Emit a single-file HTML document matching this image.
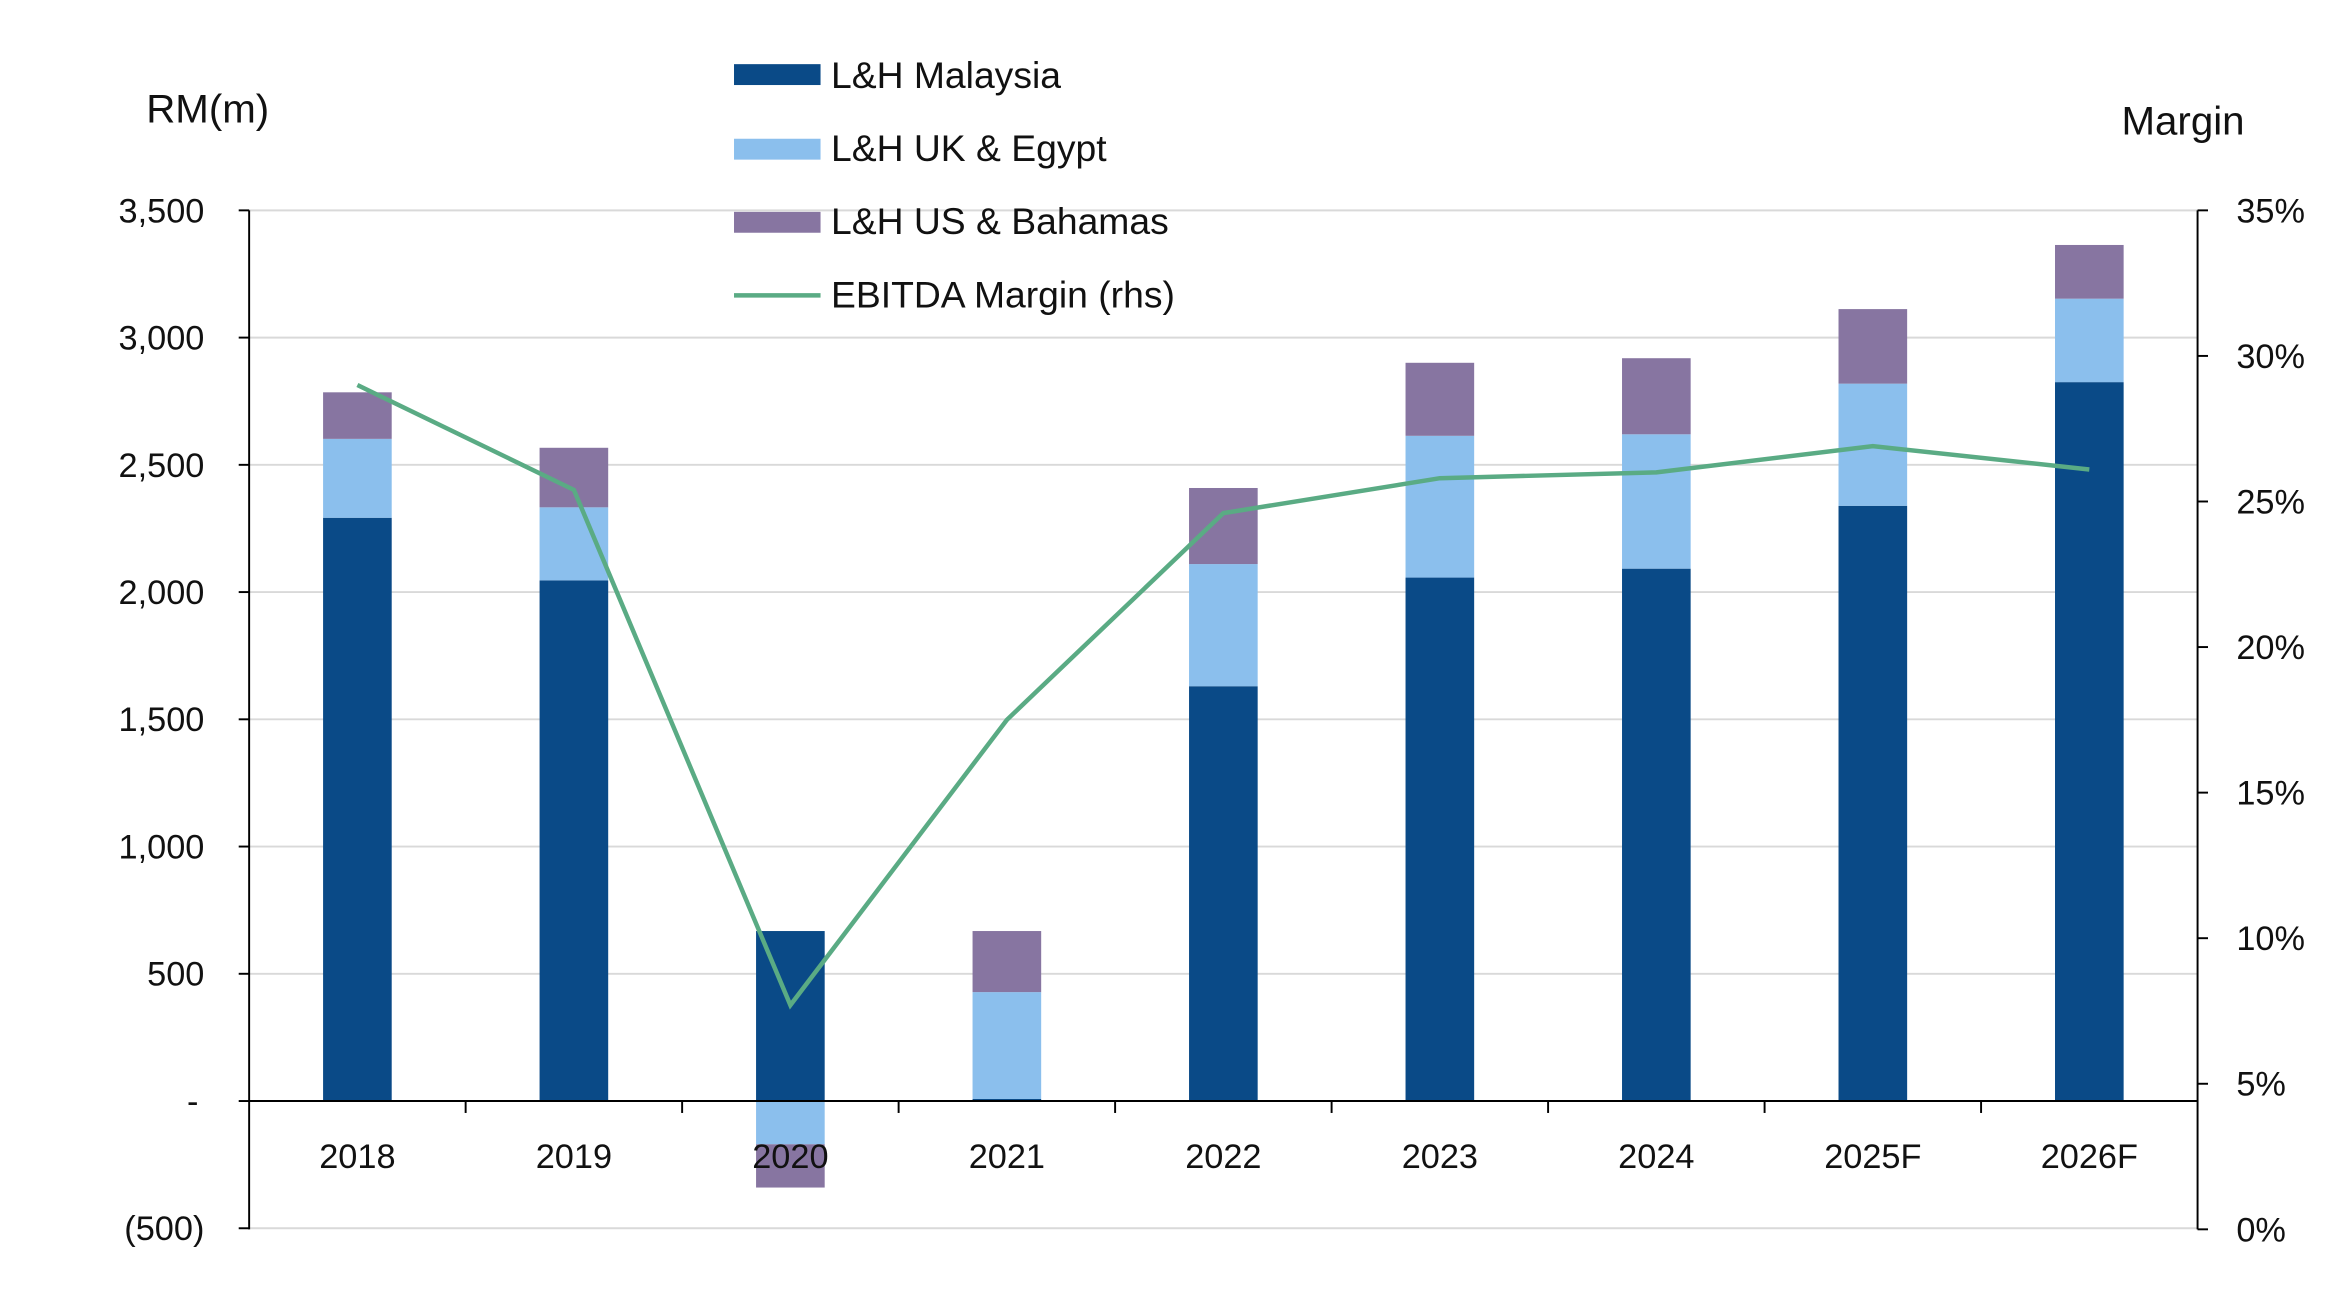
<!DOCTYPE html>
<html><head><meta charset="utf-8"><style>
html,body{margin:0;padding:0;background:#fff;}
svg{display:block;font-family:"Liberation Sans",sans-serif;}
</style></head><body>
<svg id="chart" width="2339" height="1299" viewBox="0 0 1567.8 870.7" xmlns="http://www.w3.org/2000/svg">
<g id="grid"></g>
<g id="bars"></g>
<g id="axes"></g>
<g id="line"></g>
<text x="98" y="82" font-size="27" fill="#111">RM(m)</text>
<text x="1422" y="90" font-size="27" fill="#111">Margin</text>
<g>
<rect x="492" y="43" width="58" height="14" fill="#0a4a87"/>
<text x="557" y="59" font-size="25" fill="#111">L&amp;H Malaysia</text>
<rect x="492" y="93" width="58" height="14" fill="#8bbfed"/>
<text x="557" y="108" font-size="25" fill="#111">L&amp;H UK &amp; Egypt</text>
<rect x="492" y="142" width="58" height="14" fill="#8775a1"/>
<text x="557" y="157" font-size="25" fill="#111">L&amp;H US &amp; Bahamas</text>
<line x1="492" y1="198" x2="550" y2="198" stroke="#5aab84" stroke-width="3"/>
<text x="557" y="206" font-size="25" fill="#111">EBITDA Margin (rhs)</text>
</g>
</svg>
<script>
const categories=["2018","2019","2020","2021","2022","2023","2024","2025F","2026F"];
const malaysia=[2292,2046,668,8,1630,2057,2092,2339,2825];
const ukEgypt=[310,287,-170,420,480,557,528,480,328];
const usBahamas=[183,234,-170,240,299,287,299,293,211];
const margin=[29.0,25.4,7.7,17.5,24.6,25.8,26.0,26.9,26.1];
const leftTicks=[-500,0,500,1000,1500,2000,2500,3000,3500];
const leftTickLabels=["(500)","-","500","1,000","1,500","2,000","2,500","3,000","3,500"];
const rightTicks=[0,5,10,15,20,25,30,35];

const NS="http://www.w3.org/2000/svg";
const X0=167,X1=1473,Y0=738,perUnit=(738-141)/3500;
const yL=v=>Y0-v*perUnit;
const yR=p=>824-p*(824-141)/35;
const step=(X1-X0)/categories.length;
const xC=i=>X0+step*(i+0.5);
function mk(tag,attrs,parent,txt){const e=document.createElementNS(NS,tag);for(const k in attrs)e.setAttribute(k,attrs[k]);if(txt!==undefined)e.textContent=txt;parent.appendChild(e);return e;}
const grid=document.getElementById('grid'),bars=document.getElementById('bars'),axes=document.getElementById('axes'),line=document.getElementById('line');
leftTicks.forEach((v,i)=>{
  if(v!==0){const g=mk('line',{x1:X0,x2:X1,y1:yL(v),y2:yL(v),stroke:'#d9d9d9','stroke-width':1.3},grid);
  
  }
  const t=mk('line',{x1:X0-7,x2:X0,y1:yL(v),y2:yL(v),stroke:'#000','stroke-width':1.3},axes);
  
  
  const l=mk('text',{x:v===0?133:137,y:yL(v)+8,'text-anchor':'end','font-size':23,fill:'#111'},axes,leftTickLabels[i]);
  
  
});
rightTicks.forEach(p=>{
  const t=mk('line',{x1:X1,x2:X1+7,y1:yR(p),y2:yR(p),stroke:'#000','stroke-width':1.3},axes);
  
  
  const l=mk('text',{x:1499,y:yR(p)+8,'font-size':23,fill:'#111'},axes,p+'%');
  
  
});
const bw=46;
function seg(i,a,b,color,name){
  const top=Math.min(yL(a),yL(b)),h=Math.abs(yL(a)-yL(b));
  const r=mk('rect',{x:xC(i)-bw/2,y:top,width:bw,height:h,fill:color},bars);
  
  
}
categories.forEach((c,i)=>{
  seg(i,0,malaysia[i],'#0a4a87','bar-malaysia-'+c);
  let pos=Math.max(malaysia[i],0),neg=Math.min(malaysia[i],0);
  [[ukEgypt[i],'#8bbfed','bar-uk-'],[usBahamas[i],'#8775a1','bar-us-']].forEach(([v,col,n])=>{
    if(v>=0){seg(i,pos,pos+v,col,n+c);pos+=v;}else{seg(i,neg,neg+v,col,n+c);neg+=v;}
  });
  const l=mk('text',{x:xC(i),y:783,'text-anchor':'middle','font-size':23,fill:'#111'},axes,c);
  
  
  if(i>0){const t=mk('line',{x1:X0+step*i,x2:X0+step*i,y1:Y0,y2:Y0+8,stroke:'#000','stroke-width':1.3},axes);
  
  }
});
[[X0,141,X0,824,'left-axis'],[X1,141,X1,824,'right-axis'],[X0,Y0,X1,Y0,'x-axis']].forEach(a=>{
  const e=mk('line',{x1:a[0],y1:a[1],x2:a[2],y2:a[3],stroke:'#000','stroke-width':1.3},axes);
  
  
});
const pl=mk('polyline',{points:margin.map((m,i)=>xC(i)+','+yR(m)).join(' '),fill:'none',stroke:'#5aab84','stroke-width':3},line);


</script>
</body></html>
